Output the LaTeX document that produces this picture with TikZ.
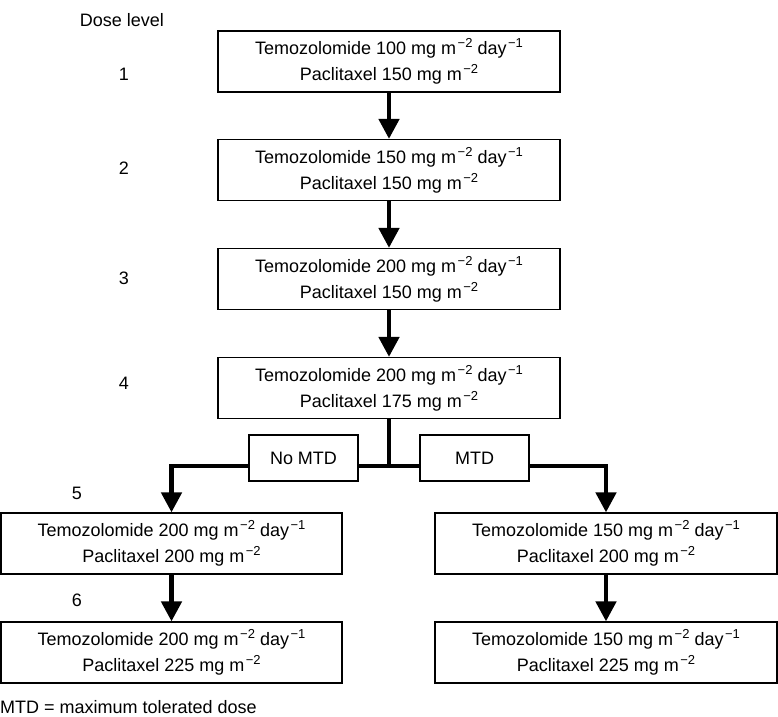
\documentclass[tikz,border=0pt]{standalone}
\usepackage{fontspec}
\setmainfont{Liberation Sans}
\usetikzlibrary{arrows.meta}
\newcommand{\sups}[1]{\kern1.5pt\raisebox{7pt}{\fontsize{13pt}{13pt}\selectfont #1}}
\begin{document}
\begin{tikzpicture}[x=1pt,y=-1pt,
  font=\fontsize{18pt}{26pt}\selectfont,
  dosebox/.style={draw=black, line width=1.2pt, fill=white, minimum width=342pt, minimum height=61pt, align=center, inner sep=0pt},
  tagbox/.style={draw=black, line width=1.2pt, fill=white, minimum width=109pt, minimum height=46pt, inner sep=0pt},
  flow/.style={line width=4.6pt, -{Triangle[width=20pt,length=20pt]}},
  plain/.style={line width=4.6pt},
  lbl/.style={inner sep=0pt}]
\useasboundingbox (0,0) rectangle (778,716);
% dose level labels
\node[lbl] (dl) at (122,20) {Dose level};
\node[lbl] (n1) at (124,74) {1};
\node[lbl] (n2) at (124,168) {2};
\node[lbl] (n3) at (124,278) {3};
\node[lbl] (n4) at (124,383) {4};
\node[lbl] (n5) at (77,493) {5};
\node[lbl] (n6) at (77,600) {6};
% boxes
\node[dosebox] (b1) at (389,61.5) {Temozolomide 100 mg m\sups{−2} day\sups{−1}\\Paclitaxel 150 mg m\sups{−2}};
\node[dosebox] (b2) at (389,170) {Temozolomide 150 mg m\sups{−2} day\sups{−1}\\Paclitaxel 150 mg m\sups{−2}};
\node[dosebox] (b3) at (389,279) {Temozolomide 200 mg m\sups{−2} day\sups{−1}\\Paclitaxel 150 mg m\sups{−2}};
\node[dosebox] (b4) at (389,388) {Temozolomide 200 mg m\sups{−2} day\sups{−1}\\Paclitaxel 175 mg m\sups{−2}};
\node[dosebox, minimum width=341pt] (b5l) at (171.5,543.5) {Temozolomide 200 mg m\sups{−2} day\sups{−1}\\Paclitaxel 200 mg m\sups{−2}};
\node[dosebox, minimum width=341pt] (b6l) at (171.5,652.5) {Temozolomide 200 mg m\sups{−2} day\sups{−1}\\Paclitaxel 225 mg m\sups{−2}};
\node[dosebox] (b5r) at (606,543.5) {Temozolomide 150 mg m\sups{−2} day\sups{−1}\\Paclitaxel 200 mg m\sups{−2}};
\node[dosebox] (b6r) at (606,652.5) {Temozolomide 150 mg m\sups{−2} day\sups{−1}\\Paclitaxel 225 mg m\sups{−2}};
% connectors
\draw[flow] (b1.south) -- (b2.north);
\draw[flow] (b2.south) -- (b3.north);
\draw[flow] (b3.south) -- (b4.north);
\coordinate (j) at (389,466);
\draw[plain] (b4.south) -- (j);
\draw[flow] (j) -| (b5l.north);
\draw[flow] (j) -| (b5r.north);
\draw[flow] (b5l.south) -- (b6l.north);
\draw[flow] (b5r.south) -- (b6r.north);
% branch tags
\node[tagbox] (nomtd) at (303.5,458) {No MTD};
\node[tagbox] (mtd) at (474.5,458) {MTD};
% footnote
\node[lbl, anchor=west] (foot) at (0,707) {MTD = maximum tolerated dose};
\end{tikzpicture}
\end{document}
